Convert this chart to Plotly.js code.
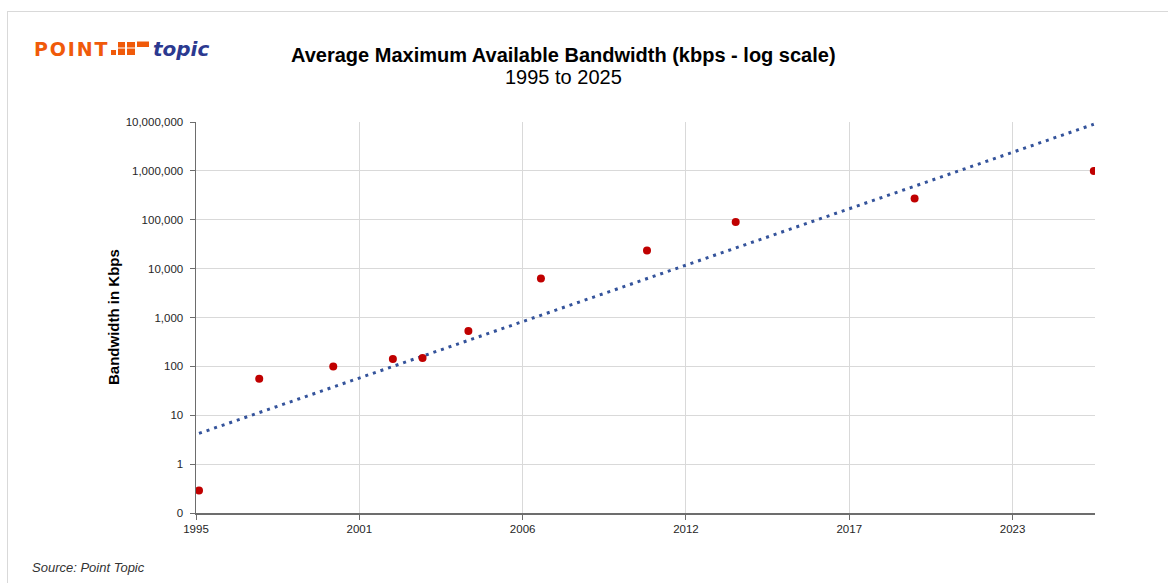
<!DOCTYPE html>
<html>
<head>
<meta charset="utf-8">
<script src="https://cdn.plot.ly/plotly-3.0.1.min.js"></script>
<style>
  html, body { margin: 0; padding: 0; background: #ffffff; }
  #chart { width: 1168px; height: 583px; }
</style>
</head>
<body>
<div id="chart"></div>
<script>
// ---- data ----
const years = [1995.10, 1997.11, 1999.58, 2001.57, 2002.56, 2004.09, 2006.51, 2010.05, 2013.01, 2018.98, 2024.96];
const kbps  = [0.29, 56, 100, 141, 148, 530, 6300, 23600, 90000, 272000, 1000000];

// exponential trendline (dotted), endpoints
const trendYears = [1995.10, 2024.96];
const trendKbps  = [4.25, 9.0e6];

const yTickVals = [0.1, 1, 10, 100, 1000, 10000, 100000, 1000000, 10000000];
const yTickText = ["0", "1", "10", "100", "1,000", "10,000", "100,000", "1,000,000", "10,000,000"];
const xTickVals = [1995, 2000.45, 2005.9, 2011.35, 2016.8, 2022.25];
const xTickText = ["1995", "2001", "2006", "2012", "2017", "2023"];

const chartTitle = "Average Maximum Available Bandwidth (kbps - log scale)";
const chartSubtitle = "1995 to 2025";
const yTitle = "Bandwidth in Kbps";
const sourceText = "Source: Point Topic";

// ---- layout helpers (pixel -> paper) ----
const W = 1168, H = 583;
const M = {l: 196, r: 73, t: 122, b: 70};
const PW = W - M.l - M.r, PH = H - M.t - M.b;
const px = x => (x - M.l) / PW;
const py = y => (H - M.b - y) / PH;

const ORANGE = "#f05a0a";
const NAVY = "#2b3990";

const traces = [
  {
    x: trendYears, y: trendKbps, type: "scatter", mode: "lines",
    line: {color: "#34539b", width: 3, dash: "3px,5px"},
    hoverinfo: "skip", showlegend: false
  },
  {
    x: years, y: kbps, type: "scatter", mode: "markers",
    marker: {color: "#c00000", size: 8},
    showlegend: false
  }
];

function rect(x0, y0, x1, y1, color) {
  return {type: "rect", xref: "paper", yref: "paper",
    x0: px(x0), x1: px(x1), y0: py(y1), y1: py(y0),
    fillcolor: color, line: {width: 0}, layer: "above"};
}

const shapes = [
  // outer frame (top and left edges)
  {type: "line", xref: "paper", yref: "paper", x0: px(7), x1: px(1168), y0: py(11.5), y1: py(11.5),
   line: {color: "#d9d9d9", width: 1}},
  {type: "line", xref: "paper", yref: "paper", x0: px(7.5), x1: px(7.5), y0: py(11), y1: py(583),
   line: {color: "#d9d9d9", width: 1}},
  // logo squares
  rect(111, 50, 116, 55, ORANGE),
  rect(118, 42, 125, 47.5, ORANGE),
  rect(118, 48.5, 125, 55, ORANGE),
  rect(127, 42, 135, 47.5, ORANGE),
  rect(127, 48.5, 135, 55, ORANGE),
  rect(137, 41.5, 149, 47, ORANGE)
];

const annotations = [
  {text: "<b>" + chartTitle + "</b>", xref: "paper", yref: "paper", x: px(563), y: py(55),
   xanchor: "center", yanchor: "middle", showarrow: false,
   font: {family: "Liberation Sans, Arial, sans-serif", size: 20, color: "#000000"}},
  {text: chartSubtitle, xref: "paper", yref: "paper", x: px(563), y: py(77),
   xanchor: "center", yanchor: "middle", showarrow: false,
   font: {family: "Liberation Sans, Arial, sans-serif", size: 20, color: "#000000"}},
  {text: "<b>" + yTitle + "</b>", xref: "paper", yref: "paper", x: px(113), y: py(317),
   xanchor: "center", yanchor: "middle", textangle: -90, showarrow: false,
   font: {family: "Liberation Sans, Arial, sans-serif", size: 15, color: "#000000"}},
  {text: "<i>" + sourceText + "</i>", xref: "paper", yref: "paper", x: px(30), y: py(567),
   xanchor: "left", yanchor: "middle", showarrow: false,
   font: {family: "Liberation Sans, Arial, sans-serif", size: 13, color: "#333333"}},
  // logo text
  {text: "<b>P\u200AO\u200AI\u200AN\u200AT</b>", xref: "paper", yref: "paper", x: px(32), y: py(48.5),
   xanchor: "left", yanchor: "middle", showarrow: false,
   font: {family: "DejaVu Sans, Verdana, sans-serif", size: 19, color: ORANGE}},
  {text: "<b><i>topic</i></b>", xref: "paper", yref: "paper", x: px(151), y: py(49),
   xanchor: "left", yanchor: "middle", showarrow: false,
   font: {family: "DejaVu Sans, Verdana, sans-serif", size: 20, color: NAVY}}
];

const axisFont = {family: "Liberation Sans, Arial, sans-serif", size: 11.5, color: "#262626"};

const layout = {
  width: W, height: H, autosize: false,
  margin: M,
  font: {family: "Liberation Sans, Arial, sans-serif", color: "#262626"},
  paper_bgcolor: "#ffffff", plot_bgcolor: "#ffffff",
  showlegend: false,
  xaxis: {
    type: "linear", range: [1995, 2025],
    tickmode: "array", tickvals: xTickVals, ticktext: xTickText,
    showgrid: true, gridcolor: "#d9d9d9", gridwidth: 1,
    showline: true, linecolor: "#6d6d6d", linewidth: 1.5,
    ticks: "outside", ticklen: 5, tickcolor: "#6d6d6d", tickwidth: 1,
    tickfont: axisFont, zeroline: false, fixedrange: true
  },
  yaxis: {
    type: "log", range: [-1, 7],
    tickmode: "array", tickvals: yTickVals, ticktext: yTickText,
    showgrid: true, gridcolor: "#d9d9d9", gridwidth: 1,
    showline: true, linecolor: "#6d6d6d", linewidth: 1.5,
    ticks: "outside", ticklen: 5, tickcolor: "#6d6d6d", tickwidth: 1,
    ticklabelstandoff: 4,
    tickfont: axisFont, zeroline: false, fixedrange: true
  },
  shapes: shapes,
  annotations: annotations
};

Plotly.newPlot("chart", traces, layout, {staticPlot: true, displayModeBar: false});
</script>
</body>
</html>
